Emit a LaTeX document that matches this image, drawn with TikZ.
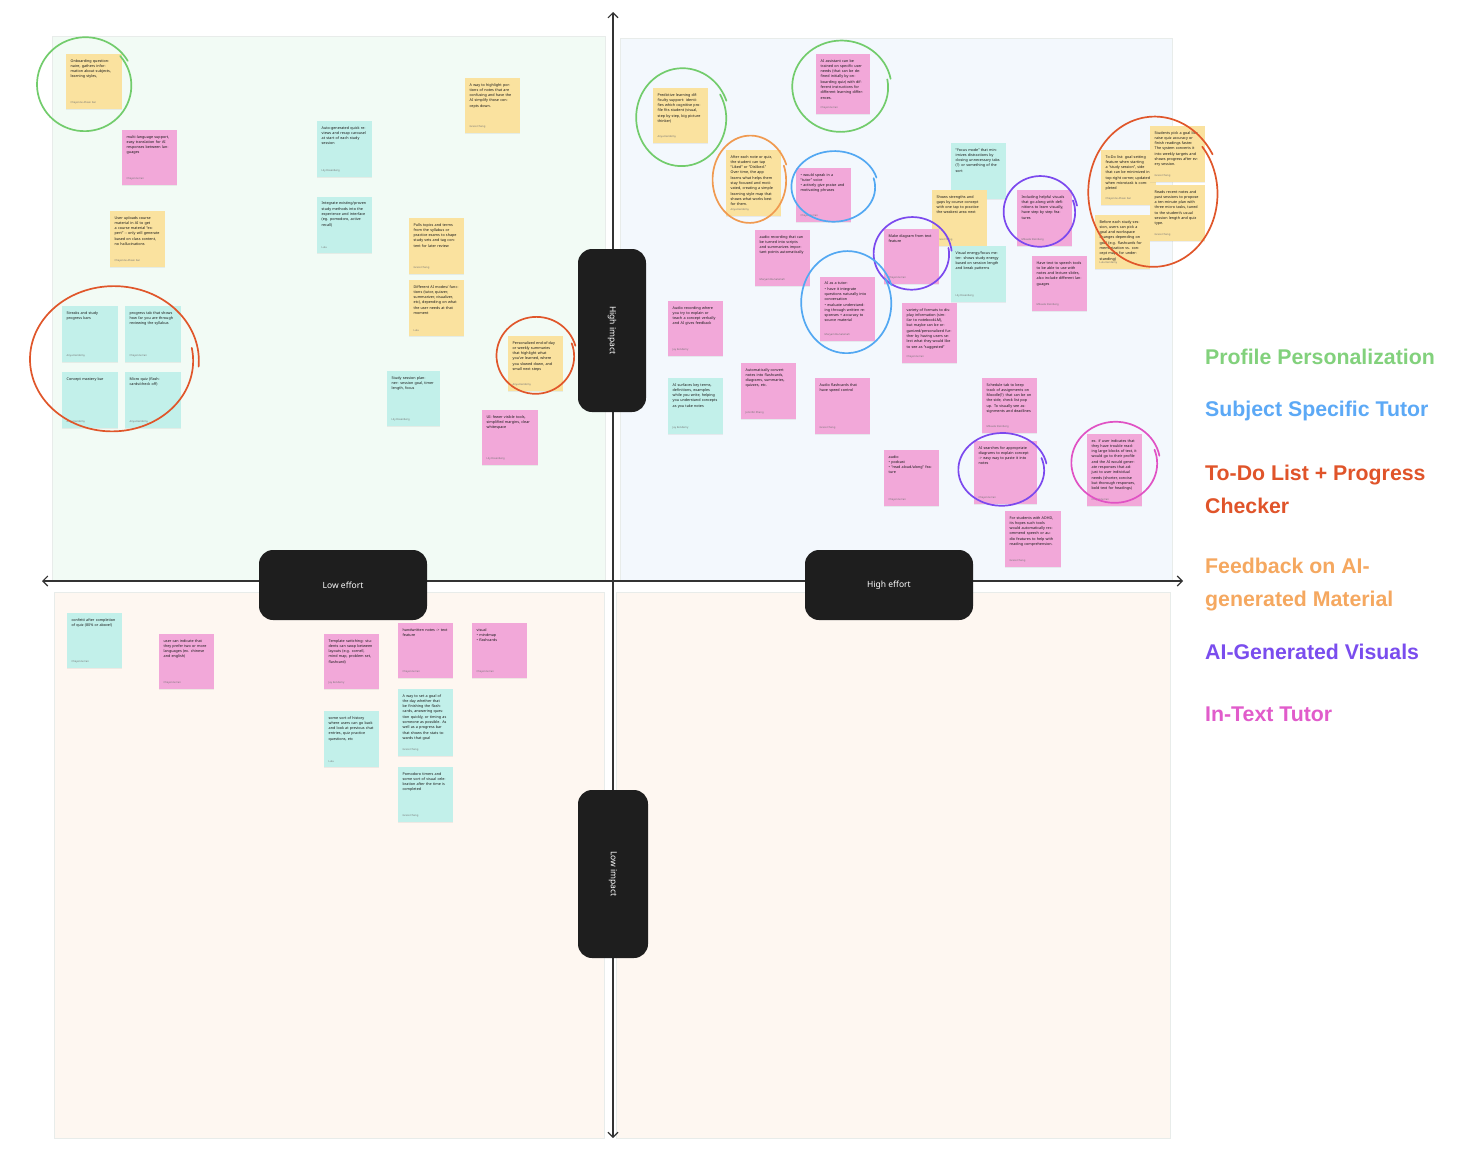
\documentclass[tikz,border=0pt]{standalone}
\usepackage{fontspec}
\setmainfont{Noto Sans}
\newfontfamily\legfont{Liberation Sans}
\usetikzlibrary{arrows.meta,shadows}
\definecolor{qTL}{HTML}{F2FBF5}
\definecolor{qTR}{HTML}{F3F8FD}
\definecolor{qBL}{HTML}{FEF7F1}
\definecolor{qline}{HTML}{E8ECEA}
\definecolor{sy}{HTML}{FAE29F}
\definecolor{sp}{HTML}{F2A8D9}
\definecolor{sc}{HTML}{C2F0EA}
\definecolor{pillc}{HTML}{1E1E1E}
\definecolor{cgreen}{HTML}{72CC6C}
\definecolor{cred}{HTML}{E0562A}
\definecolor{corange}{HTML}{F09A50}
\definecolor{cblue}{HTML}{52A8F2}
\definecolor{cpurple}{HTML}{7B49EE}
\definecolor{cmag}{HTML}{E052C4}
\definecolor{lgreen}{HTML}{82D17C}
\definecolor{lblue}{HTML}{5CA9F6}
\definecolor{lred}{HTML}{E0542A}
\definecolor{lorange}{HTML}{F5A860}
\definecolor{lpurple}{HTML}{7A4DEE}
\definecolor{lmag}{HTML}{E15CCB}
\newcommand\nohyph{\hyphenpenalty=10000\relax\exhyphenpenalty=10000\relax}
\tikzset{
  quadbox/.style={draw=qline, line width=0.5pt},
  notebox/.style={anchor=north west, inner sep=0pt, draw=none,
    drop shadow={shadow xshift=0pt, shadow yshift=-0.9pt, opacity=0.12}},
  notetext/.style={anchor=north west, inner sep=0pt, align=left,
    font=\fontsize{3.7}{5.3}\selectfont, text=black!90},
  noteauth/.style={anchor=south west, inner sep=0pt,
    font=\fontsize{2.6}{3}\selectfont, text=black!55},
  axis/.style={draw=black!80, line width=1.1pt,
    {Straight Barb[length=5pt,width=10pt]}-{Straight Barb[length=5pt,width=10pt]}},
  pill/.style={fill=pillc, rounded corners=14pt, text=white, inner sep=0pt,
    font=\fontsize{8.5}{10}\selectfont},
  scrib/.style={line width=1.7pt, line cap=round, line join=round},
  legend/.style={anchor=west, inner sep=0pt, align=left,
    font=\legfont\bfseries\fontsize{21.3}{33}\selectfont}
}
\newcommand\sticky[8]{%
  \pgfmathsetmacro\tw{#4-10}%
  \node[notebox, fill=#6, minimum width=#4, minimum height=#5] (#1) at (#2,#3) {};
  \node[notetext, text width=\tw pt] (#1-t) at ([xshift=4.5pt,yshift=-5pt]#1.north west) {\nohyph #7};
  \node[noteauth] (#1-a) at ([xshift=4.5pt,yshift=5pt]#1.south west) {#8};
}
\newcommand\scribble[7]{%
  \draw[scrib, #1] plot[smooth, samples=70, domain=#6:#7, variable=\t]
    ({#2+#4*(1+0.0002*(\t-#6))*cos(\t)},{#3+#5*(1+0.0002*(\t-#6))*sin(\t)});
}
\begin{document}
\begin{tikzpicture}[x=1pt,y=-1pt]
\useasboundingbox (0,0) rectangle (1462,1162);
\fill[white] (0,0) rectangle (1462,1162);
% quadrants
\fill[qTL, quadbox] (52,36) rectangle (605,580);
\fill[qTR, quadbox] (620,38) rectangle (1172,580);
\fill[qBL, quadbox] (54,592) rectangle (604,1138);
\fill[qBL, quadbox] (616,592) rectangle (1170,1138);
% axes
\coordinate (axL) at (42,581);
\coordinate (axR) at (1183,581);
\coordinate (axT) at (613,12);
\coordinate (axB) at (613,1138);
\draw[axis] (axL) -- (axR);
\draw[axis] (axT) -- (axB);
% pills
\node[pill, rotate=-90, minimum width=163, minimum height=68] (hi) at (612,330.5) {High impact};
\node[pill, rotate=-90, minimum width=168, minimum height=70] (lo) at (613,874) {Low impact};
\node[pill, minimum width=168, minimum height=70] (le) at (343,585) {Low effort};
\node[pill, minimum width=168, minimum height=70] (he) at (889,585) {High effort};

% ---------- top-left quadrant ----------
\sticky{n1}{66}{54}{56}{55}{sy}{Onboarding questionnaire, gathers information about subjects, learning styles,}{Cheyenne Ahsan Fan}
\sticky{n2}{122}{130}{55}{55}{sp}{multi-language support, easy translation for AI responses between languages}{Cheyenne Fan}
\sticky{n3}{110}{211}{55}{56}{sy}{User uploads course material in AI to get a course material “expert” -{}- only will generate based on class content, no hallucinations}{Cheyenne Ahsan Fan}
\sticky{n4}{317}{121}{55}{56}{sc}{Auto-generated quick reviews and recap carousel at start of each study session}{Lily Rosenberg}
\sticky{n5}{317}{197}{55}{56}{sc}{Integrate existing/proven study methods into the experience and interface (eg. pomodoro, active recall)}{Lulu}
\sticky{n6}{465}{78}{55}{55}{sy}{A way to highlight portions of notes that are confusing and have the AI simplify those concepts down.}{Grace Chang}
\sticky{n7}{409}{218}{55}{56}{sy}{Pulls topics and terms from the syllabus or practice exams to shape study sets and tag content for later review}{Grace Chang}
\sticky{n8}{409}{280}{55}{56}{sy}{Different AI modes/ functions (tutor, quizzer, summarizer, visualizer, etc), depending on what the user needs at that moment}{Lulu}
\sticky{n9}{508}{336}{55}{55}{sy}{Personalized end-of-day or weekly summaries that highlight what you’ve learned, where you slowed down, and small next steps}{Anya Kendemy}
\sticky{n10}{387}{371}{53}{55}{sc}{Study session planner: session goal, timer length, focus}{Lily Rosenberg}
\sticky{n11}{482}{410}{56}{55}{sp}{UI: fewer visible tools, simplified margins, clear whitespace}{Lily Rosenberg}
\sticky{n12}{62}{306}{56}{56}{sc}{Streaks and study progress bars}{Anya Kendemy}
\sticky{n13}{125}{306}{56}{56}{sc}{progress tab that shows how far you are through reviewing the syllabus}{Cheyenne Fan}
\sticky{n14}{62}{372}{56}{56}{sc}{Concept mastery bar}{Anya Kendemy}
\sticky{n15}{125}{372}{56}{56}{sc}{Micro quiz (flashcards/check off)}{Anya Kendemy}

% ---------- top-right quadrant ----------
\sticky{m1}{653}{88}{55}{55}{sy}{Predictive learning difficulty support: identifies which cognitive profile fits student (visual, step by step, big picture thinker)}{Anya Kendemy}
\sticky{m2}{816}{54}{54}{60}{sp}{AI assistant can be trained on specific user needs (that can be defined initially by onboarding quiz) with different instructions for different learning differences.}{Cheyenne Fan}
\sticky{m3}{726}{150}{55}{66}{sy}{After each note or quiz, the student can tap “Liked” or “Disliked.” Over time, the app learns what helps them stay focused and motivated, creating a simple learning style map that shows what works best for them.}{Anya Kendemy}
\sticky{m4}{796}{168}{55}{54}{sp}{• would speak in a “tutor” voice\\• actively give praise and motivating phrases}{Cheyenne Fan}
\sticky{m5}{755}{230}{55}{56}{sp}{audio recording that can be turned into scripts and summarizes important points automatically}{Maryam Ba-Salamah}
\sticky{m6}{951}{143}{55}{56}{sc}{“Focus mode” that minimizes distractions by closing unnecessary tabs (?) or something of the sort}{Lily Rosenberg}
\sticky{m7}{932}{190}{55}{56}{sy}{Shows strengths and gaps by course concept with one tap to practice the weakest area next}{Grace Chang}
\sticky{m8}{951}{246}{55}{56}{sc}{Visual energy/focus meter: shows study energy based on session length and break patterns}{Lily Rosenberg}
\sticky{m9}{1017}{190}{55}{56}{sp}{Including helpful visuals that go along with definitions to learn visually, have step by step features}{Mikaela Steinberg}
\sticky{m10}{884}{229}{55}{55}{sp}{Make diagram from text feature}{Cheyenne Fan}
\sticky{m11}{820}{277}{55}{64}{sp}{AI as a tutor:\\• have it integrate questions naturally into conversation\\• evaluate understanding through written responses + accuracy to source material}{Maryam Ba-Salamah}
\sticky{m12}{902}{303}{55}{60}{sp}{variety of formats to display information (similar to notebookLM), but maybe can be organized/personalized further by having users select what they would like to see as “suggested”}{Cheyenne Fan}
\sticky{m13}{1032}{256}{55}{55}{sp}{Have text to speech tools to be able to use with notes and lecture slides, also include different languages}{Mikaela Steinberg}
\sticky{c1}{1101}{150}{55}{55}{sy}{To-Do list: goal setting feature when starting a “study session”, side that can be minimized in top-right corner, updated when microtask is completed}{Cheyenne Ahsan Fan}
\sticky{c4}{1095}{215}{55}{54}{sy}{Before each study session, users can pick a goal and workspace changes depending on goal (e.g. flashcards for memorization vs. concept maps for understanding)}{Lulu Kendemy}
\sticky{c2}{1150}{126}{55}{56}{sy}{Students pick a goal like raise quiz accuracy or finish readings faster. The system converts it into weekly targets and shows progress after every session.}{Grace Chang}
\sticky{c3}{1150}{185}{55}{56}{sy}{Reads recent notes and past sessions to propose a ten-minute plan with three micro tasks, tuned to the student’s usual session length and quiz type.}{Grace Chang}
\sticky{m14}{668}{301}{55}{55}{sp}{Audio recording where you try to explain or teach a concept verbally and AI gives feedback}{Jay Kendemy}
\sticky{m15}{668}{378}{55}{56}{sc}{AI surfaces key terms, definitions, examples while you write, helping you understand concepts as you take notes}{Jay Kendemy}
\sticky{m16}{741}{363}{55}{56}{sp}{Automatically convert notes into flashcards, diagrams, summaries, quizzes, etc.}{Jennifer Zhang}
\sticky{m17}{815}{378}{55}{56}{sp}{Audio flashcards that have speed control}{Grace Chang}
\sticky{m18}{884}{450}{55}{56}{sp}{audio\\• podcast\\• “read aloud/along” feature}{Cheyenne Fan}
\sticky{m19}{982}{378}{55}{55}{sp}{Schedule tab to keep track of assignments on Moodle(?) that can be on the side, check list pop up. To visually see assignments and deadlines}{Mikaela Steinberg}
\sticky{m20}{974}{441}{63}{63}{sp}{AI searches for appropriate diagrams to explain concept -> easy way to paste it into notes}{Cheyenne Fan}
\sticky{m21}{1087}{434}{55}{72}{sp}{ex. if user indicates that they have trouble reading large blocks of text, it would go to their profile and the AI would generate responses that adjust to user individual needs (shorter, concise but thorough responses, bold text for headings)}{Cheyenne Fan}
\sticky{m22}{1005}{511}{56}{56}{sp}{For students with ADHD, its hopes such tools would automatically recommend speech or audio features to help with reading comprehension.}{Grace Chang}

% ---------- bottom-left quadrant ----------
\sticky{b1}{67}{613}{55}{55}{sc}{confetti after completion of quiz (80\% or above!)}{Cheyenne Fan}
\sticky{b2}{159}{634}{55}{55}{sp}{user can indicate that they prefer two or more languages (ex. chinese and english)}{Cheyenne Fan}
\sticky{b3}{324}{634}{55}{55}{sp}{Template switching: students can swap between layouts (e.g. cornell, mind map, problem set, flashcard)}{Jay Kendemy}
\sticky{b4}{398}{623}{55}{55}{sp}{handwritten notes -> text feature}{Cheyenne Fan}
\sticky{b5}{472}{623}{55}{55}{sp}{visual\\• mindmap\\• flashcards}{Cheyenne Fan}
\sticky{b6}{324}{711}{55}{56}{sc}{some sort of history where users can go back and look at previous chat entries, quiz practice questions, etc}{Lulu}
\sticky{b7}{398}{689}{55}{67}{sc}{A way to set a goal of the day whether that be finishing the flashcards, answering question quickly, or timing as someone as possible. As well as a progress bar that shows the stats towards that goal}{Grace Chang}
\sticky{b8}{398}{767}{55}{55}{sc}{Pomodoro timers and some sort of visual celebration after the time is completed}{Grace Chang}

% ---------- hand-drawn circles ----------
\scribble{cgreen}{85}{85}{46}{45}{-40}{330}
\scribble{cred}{113}{360}{80}{70}{-10}{365}
\scribble{cred}{536}{356}{38}{37}{-20}{345}
\scribble{cgreen}{682}{118}{44}{47}{-30}{340}
\scribble{cgreen}{841}{87}{47}{44}{-10}{350}
\scribble{corange}{750}{180}{36}{42}{-20}{340}
\scribble{cblue}{834}{187}{41}{34}{-15}{345}
\scribble{cpurple}{912}{254}{37}{35}{-10}{355}
\scribble{cblue}{847}{303}{44}{49}{-30}{340}
\scribble{cpurple}{1040}{212}{35}{34}{-20}{350}
\scribble{cred}{1154}{193}{63}{72}{-40}{330}
\scribble{cpurple}{1002}{470}{42}{35}{-20}{350}
\scribble{cmag}{1115}{463}{42}{39}{-20}{350}

% ---------- legend ----------
\node[legend, text=lgreen] (lg1) at (1205,357) {Profile Personalization};
\node[legend, text=lblue] (lg2) at (1205,411) {Subject Specific Tutor};
\node[legend, text=lred] (lg3) at (1205,489.5) {To-Do List + Progress\\Checker};
\node[legend, text=lorange] (lg4) at (1205,584.5) {Feedback on AI-\\generated Material};
\node[legend, text=lpurple] (lg5) at (1205,652) {AI-Generated Visuals};
\node[legend, text=lmag] (lg6) at (1205,714) {In-Text Tutor};
\end{tikzpicture}
\end{document}
